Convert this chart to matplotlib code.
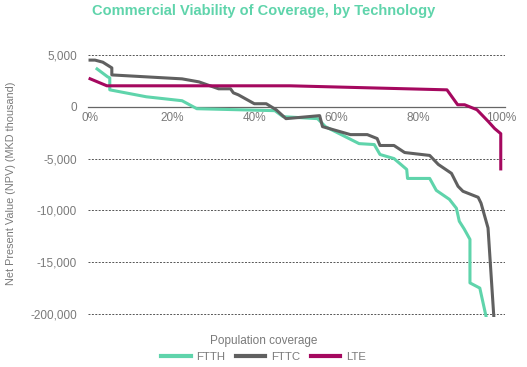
import numpy as np
import matplotlib
matplotlib.use("Agg")
import matplotlib.pyplot as plt

plt.rcParams['font.family'] = ['Liberation Sans', 'DejaVu Sans']

# population coverage (%) and NPV (plotted units; bottom band stands for -200,000)
ftth_x = [1.7, 4.3, 4.8, 4.8, 13.7, 22.4, 26.0, 45.0, 47.0, 55.4, 57.3, 65.5, 69.2, 70.6,
          74.0, 77.1, 77.3, 82.7, 84.3, 87.5, 89.2, 89.9, 91.1, 92.5, 92.5, 94.9, 96.4]
ftth_y = [3650, 2880, 2790, 1630, 960, 580, -190, -380, -960, -1150, -1920, -3560, -3650, -4610,
          -5000, -6050, -6920, -6920, -8070, -8940, -9800, -11050, -11800, -12800, -17000, -17500, -20200]

fttc_x = [0.0, 1.2, 3.1, 4.3, 5.3, 5.3, 22.4, 26.5, 31.3, 34.2, 34.9, 36.1, 40.0, 42.9, 45.3,
          47.7, 55.9, 56.6, 63.4, 67.5, 69.9, 70.6, 74.0, 76.6, 82.7, 84.8, 88.0, 89.6, 90.8,
          94.5, 95.2, 96.9, 98.3]
fttc_y = [4500, 4500, 4300, 4000, 3750, 3070, 2690, 2400, 1730, 1730, 1340, 1150, 290, 290, -290,
          -1150, -860, -1920, -2690, -2690, -3070, -3740, -3740, -4420, -4700, -5570, -6430, -7680, -8160,
          -8740, -9310, -11700, -20200]

lte_x = [0.0, 4.1, 48.7, 86.9, 89.5, 91.2, 94.2, 97.0, 98.5, 100.0, 100.0]
lte_y = [2700, 2020, 2020, 1630, 190, 190, -290, -1440, -2100, -2600, -6000]

y_ticks = [5000, 0, -5000, -10000, -15000, -20000]
y_labels = ['5,000', '0', '-5,000', '-10,000', '-15,000', '-200,000']
x_ticks = [0, 20, 40, 60, 80, 100]

c_ftth = '#5fd4ab'
c_fttc = '#606060'
c_lte = '#a5085f'
txt = '#7a7a7a'

fig = plt.figure(figsize=(5.27, 3.67), dpi=100)
ax = fig.add_axes([0.167, 0.136, 0.791, 0.72])

for yv in y_ticks:
    if yv != 0:
        ax.axhline(yv, color='#555555', lw=0.7, ls=(0, (2, 1.5)), zorder=1)

ax.plot(ftth_x, ftth_y, color=c_ftth, lw=2.2, label='FTTH', zorder=3, solid_joinstyle='round')
ax.plot(fttc_x, fttc_y, color=c_fttc, lw=2.2, label='FTTC', zorder=3, solid_joinstyle='round')
ax.plot(lte_x, lte_y, color=c_lte, lw=2.2, label='LTE', zorder=4, solid_joinstyle='round')

ax.set_xlim(-0.5, 101)
ax.set_ylim(-20300, 5200)

for s in ['top', 'right', 'left']:
    ax.spines[s].set_visible(False)
ax.spines['bottom'].set_position(('data', 0))
ax.spines['bottom'].set_color('#666666')
ax.spines['bottom'].set_linewidth(0.9)
ax.spines['bottom'].set_zorder(2)

ax.set_xticks(x_ticks)
ax.set_xticklabels([f'{v}%' for v in x_ticks])
ax.set_yticks(y_ticks)
ax.set_yticklabels(y_labels)
ax.tick_params(axis='both', length=0, labelsize=8.5, labelcolor=txt)
ax.tick_params(axis='x', pad=4)
ax.tick_params(axis='y', pad=8)

fig.text(0.02, 0.50, 'Net Present Value (NPV) (MKD thousand)', rotation=90,
         ha='center', va='center', fontsize=7.8, color=txt)
fig.text(0.5, 0.071, 'Population coverage', ha='center', va='center', fontsize=8.5, color=txt)
fig.suptitle('Commercial Viability of Coverage, by Technology', x=0.5, y=0.988,
             fontsize=10.5, fontweight='bold', color=c_ftth)

leg = fig.legend(loc='center', bbox_to_anchor=(0.5, 0.027), ncol=3, frameon=False,
                 fontsize=8.2, handlelength=2.6, columnspacing=0.9, handletextpad=0.5)
for t in leg.get_texts():
    t.set_color(txt)
for h in leg.get_lines():
    h.set_linewidth(3)

fig.savefig('out.png', dpi=100)
